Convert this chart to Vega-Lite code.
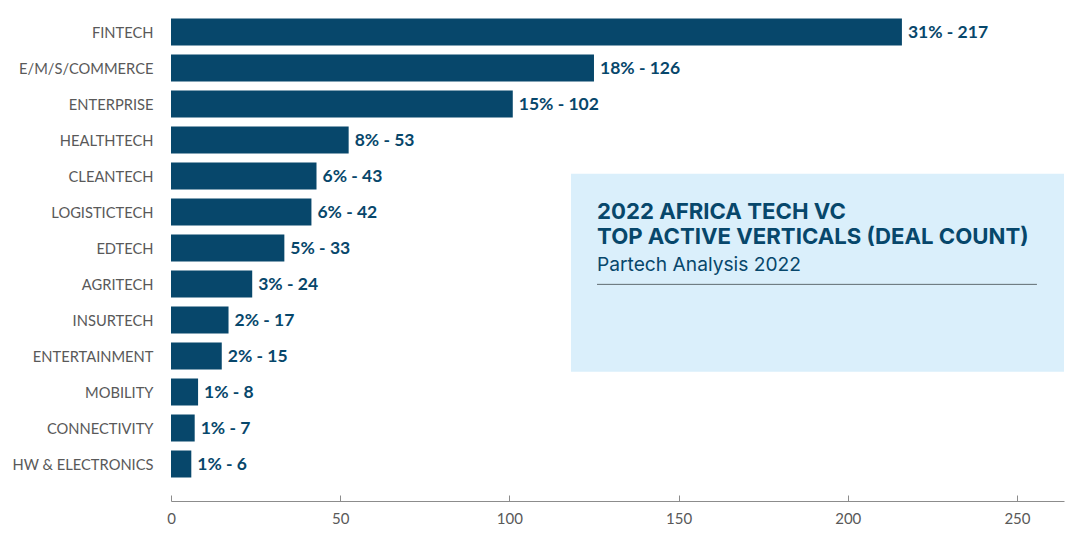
{
  "$schema": "https://vega.github.io/schema/vega-lite/v6.json",
  "width": 893,
  "height": 468,
  "autosize": "none",
  "padding": {"left": 171, "top": 14, "right": 22, "bottom": 64},
  "background": "white",
  "config": {"view": {"stroke": null}, "font": "Lato"},
  "datasets": {
    "verticals": [
      {"vertical": "FINTECH", "deals": 216, "label": "31% - 217"},
      {"vertical": "E/M/S/COMMERCE", "deals": 125, "label": "18% - 126"},
      {"vertical": "ENTERPRISE", "deals": 101, "label": "15% - 102"},
      {"vertical": "HEALTHTECH", "deals": 52.5, "label": "8% - 53"},
      {"vertical": "CLEANTECH", "deals": 43, "label": "6% - 43"},
      {"vertical": "LOGISTICTECH", "deals": 41.5, "label": "6% - 42"},
      {"vertical": "EDTECH", "deals": 33.5, "label": "5% - 33"},
      {"vertical": "AGRITECH", "deals": 24, "label": "3% - 24"},
      {"vertical": "INSURTECH", "deals": 17, "label": "2% - 17"},
      {"vertical": "ENTERTAINMENT", "deals": 15, "label": "2% - 15"},
      {"vertical": "MOBILITY", "deals": 8, "label": "1% - 8"},
      {"vertical": "CONNECTIVITY", "deals": 7, "label": "1% - 7"},
      {"vertical": "HW & ELECTRONICS", "deals": 6, "label": "1% - 6"}
    ]
  },
  "layer": [
    {
      "data": {"name": "verticals"},
      "layer": [
        {
          "mark": {"type": "bar", "color": "#07476b"},
          "encoding": {
            "y": {
              "field": "vertical",
              "type": "nominal",
              "sort": null,
              "title": null,
              "scale": {"paddingInner": 0.25, "paddingOuter": 0.125},
              "axis": {
                "domain": false,
                "ticks": false,
                "labelPadding": 18,
                "labelOffset": 2,
                "labelFont": "Lato",
                "labelFontSize": 14.7,
                "labelColor": "#595959",
                "labelLimit": 200
              }
            },
            "x": {
              "field": "deals",
              "type": "quantitative",
              "title": null,
              "scale": {"domain": [0, 263.9], "nice": false},
              "axis": {
                "values": [0, 50, 100, 150, 200, 250],
                "offset": 19,
                "grid": false,
                "domainColor": "#8c8c8c",
                "tickColor": "#8c8c8c",
                "tickSize": -6,
                "labelFlush": false,
                "labelPadding": 16,
                "labelFont": "Lato",
                "labelFontSize": 15,
                "labelColor": "#595959"
              }
            }
          }
        },
        {
          "mark": {"type": "text", "align": "left", "dx": 6, "dy": 1, "font": "Lato", "fontWeight": "bold", "fontSize": 17.5, "color": "#07476b"},
          "encoding": {
            "y": {"field": "vertical", "type": "nominal", "sort": null, "title": null},
            "x": {"field": "deals", "type": "quantitative"},
            "text": {"field": "label"}
          }
        }
      ]
    },
    {
      "data": {"values": [{"x": 118.2, "x2": 263.9, "row": 4.44, "row2": 9.94}]},
      "mark": {"type": "rect", "color": "#daeffb"},
      "encoding": {
        "x": {"field": "x", "type": "quantitative"},
        "x2": {"field": "x2"},
        "y": {"field": "row", "type": "quantitative", "scale": {"domain": [13, 0], "nice": false, "zero": false}, "axis": null},
        "y2": {"field": "row2"}
      }
    },
    {
      "data": {"values": [{"x": 125.9, "x2": 255.9, "row": 7.51}]},
      "mark": {"type": "rule", "color": "#5f6b70", "strokeWidth": 1},
      "encoding": {
        "x": {"field": "x", "type": "quantitative"},
        "x2": {"field": "x2"},
        "y": {"field": "row", "type": "quantitative", "scale": {"domain": [13, 0], "nice": false, "zero": false}, "axis": null}
      }
    },
    {
      "data": {"values": [
        {"x": 125.9, "row": 5.5, "text": "2022 AFRICA TECH VC"},
        {"x": 125.9, "row": 6.2, "text": "TOP ACTIVE VERTICALS (DEAL COUNT)"}
      ]},
      "mark": {"type": "text", "align": "left", "font": "Inter", "fontWeight": "bold", "fontSize": 22.2, "color": "#07476b"},
      "encoding": {
        "x": {"field": "x", "type": "quantitative"},
        "y": {"field": "row", "type": "quantitative", "scale": {"domain": [13, 0], "nice": false, "zero": false}, "axis": null},
        "text": {"field": "text"}
      }
    },
    {
      "data": {"values": [{"x": 125.9, "row": 6.97, "text": "Partech Analysis 2022"}]},
      "mark": {"type": "text", "align": "left", "font": "Inter", "fontSize": 19.2, "color": "#07476b"},
      "encoding": {
        "x": {"field": "x", "type": "quantitative"},
        "y": {"field": "row", "type": "quantitative", "scale": {"domain": [13, 0], "nice": false, "zero": false}, "axis": null},
        "text": {"field": "text"}
      }
    }
  ],
  "resolve": {"scale": {"y": "independent"}, "axis": {"y": "independent"}}
}
